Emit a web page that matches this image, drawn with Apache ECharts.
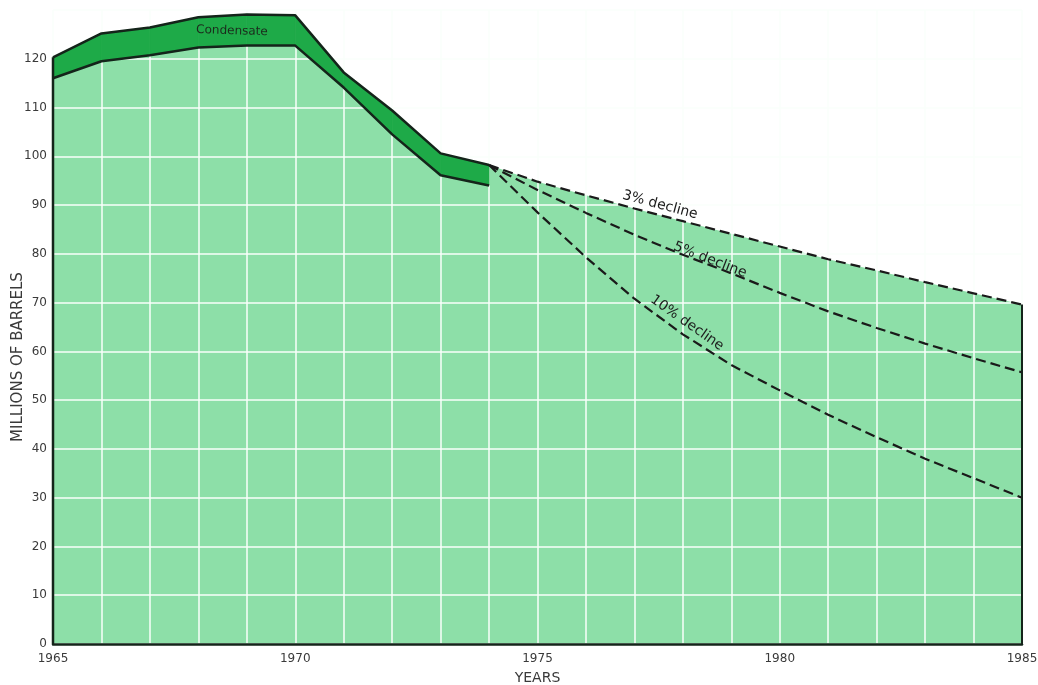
<!DOCTYPE html>
<html>
<head>
<meta charset="utf-8">
<script src="https://cdn.jsdelivr.net/npm/echarts@6/dist/echarts.min.js"></script>
<style>html,body{margin:0;padding:0;background:#fff;}#c{width:1038px;height:685px;}</style>
</head>
<body>
<div id="c"></div>
<script>
// Historical production (millions of barrels)
var years = [1965, 1966, 1967, 1968, 1969, 1970, 1971, 1972, 1973, 1974];
var crude = [116, 119.5, 120.7, 122.3, 122.7, 122.7, 114.1, 104.5, 96.1, 94];
var total = [120.3, 125.2, 126.4, 128.5, 129.1, 128.9, 117.2, 109.4, 100.6, 98.2];
// Projections
var projYears = [1974, 1975, 1976, 1977, 1978, 1979, 1980, 1981, 1982, 1983, 1984, 1985];
var decline3 = [98.2, 94.8, 92.0, 89.3, 86.7, 84.1, 81.5, 78.9, 76.6, 74.2, 71.9, 69.6];
var decline5 = [98.2, 93.1, 88.4, 83.9, 79.8, 76.0, 72.0, 68.2, 64.8, 61.6, 58.6, 55.7];
var decline10 = [98.2, 88.5, 79.3, 70.8, 63.5, 57.2, 52.0, 47.0, 42.4, 38.0, 34.0, 30.0];
var yTickLabels = [0, 10, 20, 30, 40, 50, 60, 70, 80, 90, 100, 110, 120];
var xTickLabels = [1965, 1970, 1975, 1980, 1985];

var pairs = function (xs, ys) { return xs.map(function (x, i) { return [x, ys[i]]; }); };
var crudePts = pairs(years, crude);
var totalPts = pairs(years, total);
var fillPts = crudePts.concat(pairs(projYears, decline3));
var lastX = projYears[projYears.length - 1];
var leftEdge = [[years[0], 0], [years[0], total[0]]];
var rightEdge = [[lastX, 0], [lastX, decline3[decline3.length - 1]]];
var bandData = years.slice(0, -1).map(function (y, i) { return [y, crude[i], total[i], years[i + 1], crude[i + 1], total[i + 1]]; });

var ink = '#14241a';
var dark = '#1eaa48';
var gridWhite = '#fafffb';
var dash = { color: '#1a1a1a', width: 2.2, type: [10, 5] };
var tickFont = { fontFamily: 'DejaVu Sans', fontSize: 12, color: '#3a3a3a' };
var noSym = { showSymbol: false, symbol: 'none', silent: true, animation: false };
var labelFont = '14px "DejaVu Sans"';

var chart = echarts.init(document.getElementById('c'), null, { renderer: 'canvas' });
chart.setOption({
  backgroundColor: '#ffffff',
  animation: false,
  grid: { left: 53, right: 16, top: 10, bottom: 41, containLabel: false, outerBoundsMode: 'none' },
  xAxis: {
    type: 'value', min: 1965, max: 1985, interval: 1, z: 3,
    axisLine: { show: true, lineStyle: { color: ink, width: 2.5 } },
    axisTick: { show: false },
    splitLine: { show: true, lineStyle: { color: gridWhite, width: 1.5 } },
    axisLabel: Object.assign({ margin: 9, formatter: function (v) { return xTickLabels.indexOf(v) >= 0 ? String(v) : ''; } }, tickFont),
    name: 'YEARS', nameLocation: 'middle', nameGap: 27,
    nameTextStyle: { fontFamily: 'DejaVu Sans', fontSize: 14, color: '#3a3a3a' }
  },
  yAxis: {
    type: 'value', min: 0, max: 130, interval: 10, z: 3,
    axisLine: { show: false },
    axisTick: { show: false },
    splitLine: { show: true, lineStyle: { color: gridWhite, width: 1.5 } },
    axisLabel: Object.assign({ margin: 6, formatter: function (v) { return yTickLabels.indexOf(v) >= 0 ? String(v) : ''; } }, tickFont)
  },
  graphic: [
    { type: 'text', x: 18, y: 357, rotation: Math.PI / 2, style: { text: 'MILLIONS OF BARRELS', font: '15px "DejaVu Sans"', fill: '#3a3a3a', align: 'center', verticalAlign: 'middle' }, z: 10 },
    { type: 'text', x: 232, y: 31, rotation: -0.03, style: { text: 'Condensate', font: '12px "DejaVu Sans"', fill: '#1c2a1c', align: 'center', verticalAlign: 'middle' }, z: 10 },
    { type: 'text', x: 660, y: 205, rotation: -15 * Math.PI / 180, style: { text: '3% decline', font: labelFont, fill: '#1c1c1c', align: 'center', verticalAlign: 'middle' }, z: 10 },
    { type: 'text', x: 710, y: 260, rotation: -21 * Math.PI / 180, style: { text: '5% decline', font: labelFont, fill: '#1c1c1c', align: 'center', verticalAlign: 'middle' }, z: 10 },
    { type: 'text', x: 687, y: 323, rotation: -35 * Math.PI / 180, style: { text: '10% decline', font: labelFont, fill: '#1c1c1c', align: 'center', verticalAlign: 'middle' }, z: 10 }
  ],
  series: [
    Object.assign({ type: 'line', name: 'fill', data: fillPts, z: 1, lineStyle: { width: 0, opacity: 0 }, areaStyle: { color: '#8ddfa8', opacity: 1 } }, noSym),
    {
      type: 'custom', name: 'Condensate band', data: bandData, z: 5, silent: true, animation: false,
      encode: { x: [0, 3], y: [1, 2, 4, 5] },
      renderItem: function (params, api) {
        var a = api.coord([api.value(0), api.value(1)]);
        var b = api.coord([api.value(3), api.value(4)]);
        var c = api.coord([api.value(3), api.value(5)]);
        var d = api.coord([api.value(0), api.value(2)]);
        return { type: 'polygon', shape: { points: [a, b, c, d] }, style: { fill: dark, stroke: dark, lineWidth: 0.8 } };
      }
    },
    Object.assign({ type: 'line', name: 'Crude', data: crudePts, z: 6, lineStyle: { color: ink, width: 2.5 } }, noSym),
    Object.assign({ type: 'line', name: 'Total', data: totalPts, z: 6, lineStyle: { color: ink, width: 2.5 } }, noSym),
    Object.assign({ type: 'line', name: '3% decline', data: pairs(projYears, decline3), z: 6, lineStyle: dash }, noSym),
    Object.assign({ type: 'line', name: '5% decline', data: pairs(projYears, decline5), z: 6, lineStyle: dash }, noSym),
    Object.assign({ type: 'line', name: '10% decline', data: pairs(projYears, decline10), z: 6, lineStyle: dash }, noSym),
    Object.assign({ type: 'line', name: 'leftEdge', data: leftEdge, z: 6, lineStyle: { color: ink, width: 2.5 } }, noSym),
    Object.assign({ type: 'line', name: 'rightEdge', data: rightEdge, z: 6, lineStyle: { color: ink, width: 2 } }, noSym)
  ]
});
</script>
</body>
</html>
